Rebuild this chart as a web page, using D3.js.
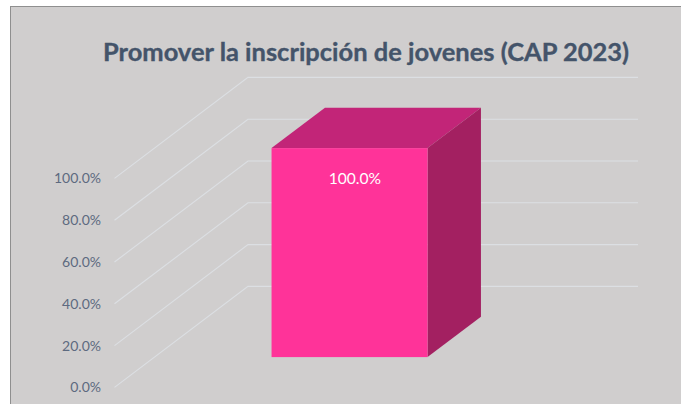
<!DOCTYPE html>
<html>
<head>
<meta charset="utf-8">
<script src="https://cdn.jsdelivr.net/npm/d3@7/dist/d3.min.js"></script>
<style>
html,body{margin:0;padding:0;background:#fff;overflow:hidden}
svg{display:block}
text{font-family:Lato,"Open Sans",sans-serif}
</style>
</head>
<body>
<svg id="c" width="681" height="404"></svg>
<script>
const titleText = "Promover la inscripción de jovenes (CAP 2023)";
const categories = ["Promover la inscripción de jovenes"];
const seriesValues = [100];
const tickValues = [0, 20, 40, 60, 80, 100];
const tickLabels = ["0.0%", "20.0%", "40.0%", "60.0%", "80.0%", "100.0%"];

const svg = d3.select("#c");

// chart area background and frame
svg.append("rect").attr("x", 10.5).attr("y", 6.5).attr("width", 680).attr("height", 410)
  .attr("fill", "#d0cece").attr("stroke", "#8f8f8f").attr("stroke-width", 1);

// front plane scales
const y = d3.scaleLinear().domain([0, 100]).range([387.4, 178.4]);
const x = d3.scaleBand().domain(categories).range([114.5, 504.5]).paddingInner(0).paddingOuter(0.75);
// depth projection (0 = front wall, 1 = back wall)
const depthX = d3.scaleLinear().domain([0, 1]).range([0, 133.5]);
const depthY = d3.scaleLinear().domain([0, 1]).range([0, -101]);
const project = (px, py, d) => [px + depthX(d), py + depthY(d)];
const line = d3.line();

// gridlines: floor/side segment and back wall segment
const grid = svg.append("g").attr("fill", "none").attr("stroke", "#dcdfe3").attr("stroke-width", 1.1);
grid.selectAll("path").data(tickValues).join("path")
  .attr("d", v => line([
    project(x.range()[0], y(v), 0),
    project(x.range()[0], y(v), 1),
    project(x.range()[1], y(v), 1)
  ]));

// axis labels
svg.append("g").selectAll("text").data(tickValues).join("text")
  .attr("x", 101).attr("y", v => y(v))
  .attr("dy", "0.36em")
  .attr("text-anchor", "end")
  .attr("font-size", 14)
  .attr("fill", "#5d6a80")
  .text((v, i) => tickLabels[i]);

// 3D bar
const barFront = 0.3, barBack = 0.7;
const bars = svg.append("g").selectAll("g").data(categories).join("g");
bars.each(function (c, i) {
  const g = d3.select(this);
  const x0 = x(c), x1 = x(c) + x.bandwidth();
  const yT = y(seriesValues[i]), yB = y(0);
  // top
  g.append("path").attr("fill", "#c22578").attr("d", line([
    project(x0, yT, barFront), project(x1, yT, barFront),
    project(x1, yT, barBack), project(x0, yT, barBack)
  ]) + "Z");
  // side
  g.append("path").attr("fill", "#a32061").attr("d", line([
    project(x1, yT, barFront), project(x1, yT, barBack),
    project(x1, yB, barBack), project(x1, yB, barFront)
  ]) + "Z");
  // front
  const a = project(x0, yT, barFront), b = project(x1, yB, barFront);
  g.append("rect").attr("x", a[0]).attr("y", a[1])
    .attr("width", b[0] - a[0]).attr("height", b[1] - a[1])
    .attr("fill", "#ff3399");
  // data label
  g.append("text").attr("x", (a[0] + b[0]) / 2 + 5.3).attr("y", 178).attr("dy", "0.36em")
    .attr("text-anchor", "middle").attr("font-size", 15.6).attr("fill", "#ffffff")
    .text(d3.format(".1f")(seriesValues[i]) + "%");
});

// title
svg.append("text").attr("x", 103).attr("y", 61)
  .attr("font-size", 25).attr("font-weight", 700).attr("fill", "#44546a")
  .attr("stroke", "#44546a").attr("stroke-width", 0.35)
  .attr("textLength", 526).attr("lengthAdjust", "spacingAndGlyphs")
  .text(titleText);
</script>
</body>
</html>
